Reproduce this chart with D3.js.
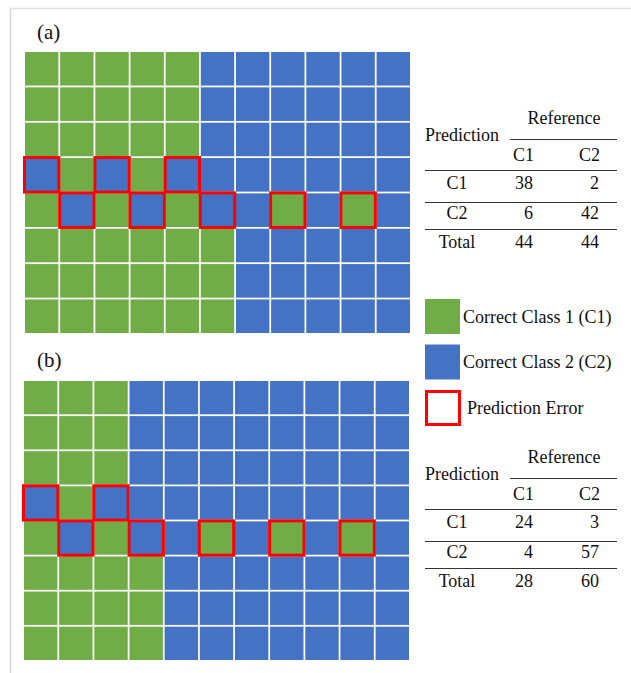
<!DOCTYPE html>
<html>
<head>
<meta charset="utf-8">
<script src="https://cdn.jsdelivr.net/npm/d3@7"></script>
<style>
  body { margin: 0; background: #fff; }
  svg text { font-family: "Liberation Serif", "Times New Roman", serif; fill: #111; }
</style>
</head>
<body>
<div id="chart"></div>
<script>
// class of each cell, row by row (1 = C1 green, 2 = C2 blue)
const gridA = [
  "11111222222",
  "11111222222",
  "11111222222",
  "21212222222",
  "12121221212",
  "11111122222",
  "11111122222",
  "11111122222"
];
const errorsA = [[3,0],[3,2],[3,4],[4,1],[4,3],[4,5],[4,7],[4,9]];

const gridB = [
  "11122222222",
  "11122222222",
  "11122222222",
  "21222222222",
  "12122121212",
  "11112222222",
  "11112222222",
  "11112222222"
];
const errorsB = [[3,0],[3,2],[4,1],[4,3],[4,5],[4,7],[4,9]];

const classes = ["C1", "C2"];
const rowLabels = ["C1", "C2", "Total"];
const confA = [[38, 2], [6, 42]];
const totalsA = [44, 44];
const confB = [[24, 3], [4, 57]];
const totalsB = [28, 60];

const legendLabels = ["Correct Class 1 (C1)", "Correct Class 2 (C2)", "Prediction Error"];

const colors = { "1": "#70ad47", "2": "#4472c4", err: "#ff0000" };

const W = 631, H = 673;
const svg = d3.select("#chart").append("svg")
  .attr("width", W).attr("height", H);

// light frame round the figure
svg.append("line").attr("x1", 10.5).attr("x2", 10.5).attr("y1", 8).attr("y2", H)
  .attr("stroke", "#d6d6d6").attr("stroke-width", 1.5);
svg.append("line").attr("x1", 10).attr("x2", W).attr("y1", 8.5).attr("y2", 8.5)
  .attr("stroke", "#e0e0e0").attr("stroke-width", 1.5);

function drawGrid(grid, errors, x0, x1, y0, y1, label, labelY){
  const x = d3.scaleBand().domain(d3.range(grid[0].length)).range([x0, x1]).paddingInner(0.05);
  const y = d3.scaleBand().domain(d3.range(grid.length)).range([y0, y1]).paddingInner(0.05);
  const cells = [];
  grid.forEach((row, r) => row.split("").forEach((c, i) => cells.push({r: r, c: i, k: c})));

  const g = svg.append("g");
  g.selectAll("rect.cell")
    .data(cells)
    .enter().append("rect")
      .attr("class", "cell")
      .attr("x", d => x(d.c))
      .attr("y", d => y(d.r))
      .attr("width", x.bandwidth())
      .attr("height", y.bandwidth())
      .attr("fill", d => colors[d.k]);

  g.selectAll("rect.err")
    .data(errors)
    .enter().append("rect")
      .attr("class", "err")
      .attr("x", d => x(d[1]) - 0.5)
      .attr("y", d => y(d[0]) - 0.5)
      .attr("width", x.bandwidth() + 1)
      .attr("height", y.bandwidth() + 1)
      .attr("fill", "none")
      .attr("stroke", colors.err)
      .attr("stroke-width", 3);

  svg.append("text")
    .attr("x", 37).attr("y", labelY)
    .style("font-size", "21px")
    .text(label);
}

drawGrid(gridA, errorsA, 25, 410, 52, 333, "(a)", 39);
drawGrid(gridB, errorsB, 24, 409, 381, 660, "(b)", 367);

// confusion table, top = centre line of "Reference"
function drawTable(conf, totals, top){
  const g = svg.append("g").style("font-size", "18px");
  const colRight = d3.scaleOrdinal().domain(classes).range([533, 599]);
  const rowY = d3.scaleOrdinal().domain(rowLabels).range([top + 65, top + 95, top + 124]);
  const lineYs = [top + 52, top + 84, top + 111];

  g.append("text").attr("x", 564).attr("y", top).attr("dy", "0.35em")
    .attr("text-anchor", "middle").text("Reference");
  g.append("text").attr("x", 462).attr("y", top + 17).attr("dy", "0.35em")
    .attr("text-anchor", "middle").text("Prediction");
  g.append("line").attr("x1", 510).attr("x2", 617)
    .attr("y1", top + 21.5).attr("y2", top + 21.5)
    .attr("stroke", "#333").attr("stroke-width", 1.2);

  g.selectAll("text.head")
    .data(classes)
    .enter().append("text")
      .attr("class", "head")
      .attr("x", d => colRight(d) + 1)
      .attr("y", top + 37).attr("dy", "0.35em")
      .attr("text-anchor", "end")
      .text(d => d);

  g.selectAll("line.rule")
    .data(lineYs)
    .enter().append("line")
      .attr("class", "rule")
      .attr("x1", 425).attr("x2", 617)
      .attr("y1", d => d + 0.5).attr("y2", d => d + 0.5)
      .attr("stroke", "#333").attr("stroke-width", 1.2);

  g.selectAll("text.rlab")
    .data(rowLabels)
    .enter().append("text")
      .attr("class", "rlab")
      .attr("x", 457)
      .attr("y", d => rowY(d)).attr("dy", "0.35em")
      .attr("text-anchor", "middle")
      .text(d => d);

  const vals = [];
  conf.forEach((row, i) => row.forEach((v, j) => vals.push({r: rowLabels[i], c: classes[j], v: v})));
  totals.forEach((v, j) => vals.push({r: "Total", c: classes[j], v: v}));

  g.selectAll("text.val")
    .data(vals)
    .enter().append("text")
      .attr("class", "val")
      .attr("x", d => colRight(d.c))
      .attr("y", d => rowY(d.r)).attr("dy", "0.35em")
      .attr("text-anchor", "end")
      .text(d => d.v);
}

drawTable(confA, totalsA, 118);
drawTable(confB, totalsB, 457);

// legend
const legY = d3.scaleBand().domain(legendLabels).range([299, 425]).paddingInner(0.231);
const bw = legY.bandwidth();
const leg = svg.append("g");
leg.selectAll("rect")
  .data(legendLabels)
  .enter().append("rect")
    .attr("x", (d, i) => i === 2 ? 426.5 : 425)
    .attr("y", (d, i) => legY(d) + (i === 2 ? 1.5 : 0))
    .attr("width", (d, i) => i === 2 ? bw - 2 : bw)
    .attr("height", (d, i) => i === 2 ? bw - 2 : bw)
    .attr("fill", (d, i) => i === 0 ? colors["1"] : i === 1 ? colors["2"] : "none")
    .attr("stroke", (d, i) => i === 2 ? colors.err : "none")
    .attr("stroke-width", 3);
leg.selectAll("text")
  .data(legendLabels)
  .enter().append("text")
    .attr("x", (d, i) => i === 2 ? 467 : 463)
    .attr("y", d => legY(d) + bw / 2)
    .attr("dy", "0.35em")
    .style("font-size", "18px")
    .text(d => d);
</script>
</body>
</html>
